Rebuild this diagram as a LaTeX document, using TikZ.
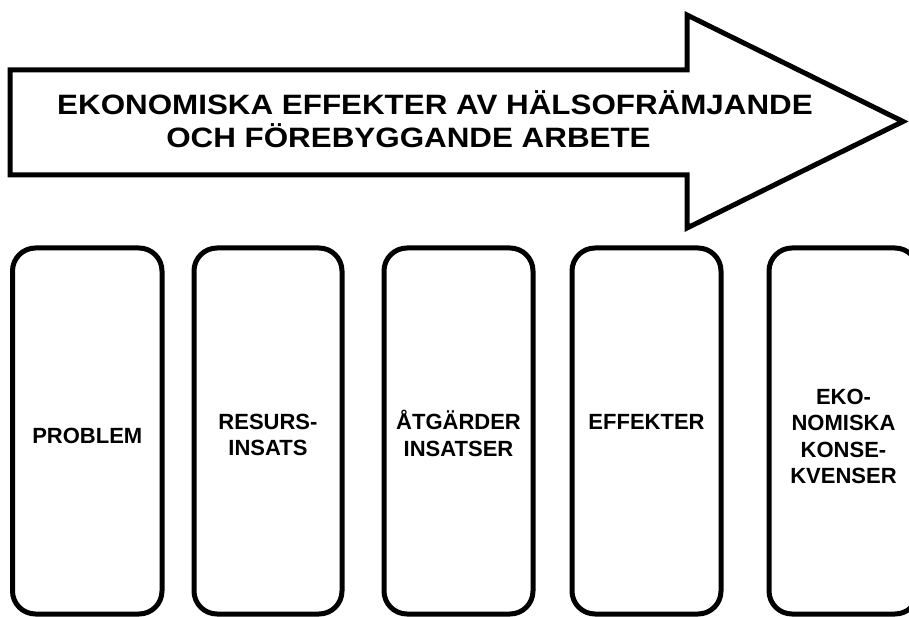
\documentclass[tikz,border=0pt]{standalone}
\usepackage{fontspec}
\setmainfont{Liberation Sans}
\usetikzlibrary{positioning}
\tikzset{
  bigarrow/.style={draw,line width=5pt,fill=white,line join=miter},
  stage/.style={rectangle,draw,line width=5pt,rounded corners=23pt,minimum width=149pt,minimum height=366pt,inner sep=0pt},
  stagetext/.style={font=\fontsize{22}{26.5}\selectfont\bfseries,align=center,inner sep=0pt},
  headline/.style={font=\fontsize{28}{33}\selectfont\bfseries,inner sep=0pt,anchor=base}
}
\begin{document}
\begin{tikzpicture}[x=1pt,y=-1pt]
  \useasboundingbox (0,0) rectangle (909,617);
  % Big arrow with heading
  \draw[bigarrow] (10,70) -- (687,70) -- (687,15) -- (903,121.5) -- (687,228) -- (687,175) -- (10,175) -- cycle;
  \node[headline] (head1) at (435,115) {\scalebox{1.12}[1]{EKONOMISKA EFFEKTER AV HÄLSOFRÄMJANDE}};
  \node[headline] (head2) at (408.5,148) {\scalebox{1.12}[1]{OCH FÖREBYGGANDE ARBETE}};

  % Five stages
  \node[stage,minimum width=149.5pt] (problem) at (87.25,431) {};
  \node[stage,minimum width=148pt] (resurs) at (268,431) {};
  \node[stage] (atgard) at (458.5,431) {};
  \node[stage] (effekt) at (646.5,431) {};
  \node[stage] (konsekv) at (843.5,431) {};

  % Stage labels
  \node[stagetext] (problemtxt) at (87.25,436) {PROBLEM};
  \node[stagetext] (resurstxt) at (268,435) {RESURS-\\INSATS};
  \node[stagetext] (atgardtxt) at (458.5,433.5) {ÅTGÄRDER\\INSATSER};
  \node[stagetext] (effekttxt) at (646.5,421.5) {EFFEKTER};
  \node[stagetext] (konsekvtxt) at (843.5,436.5) {EKO-\\NOMISKA\\KONSE-\\KVENSER};
\end{tikzpicture}
\end{document}
